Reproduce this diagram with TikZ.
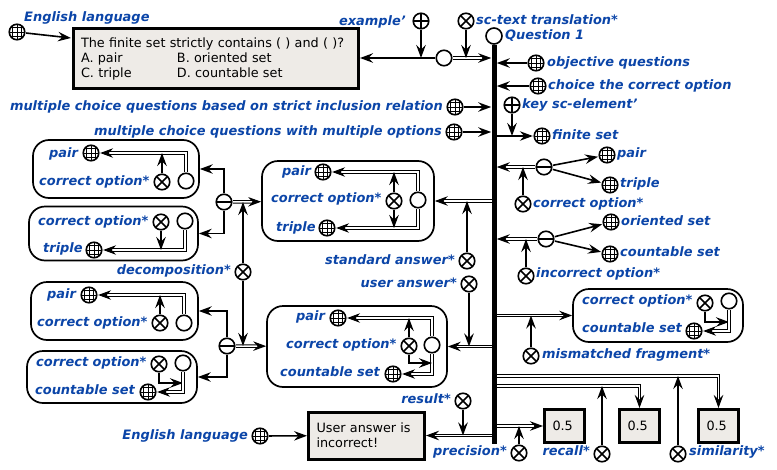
\documentclass[tikz,border=0pt]{standalone}
\usepackage{fontspec}
\setmainfont{DejaVu Sans}
\usetikzlibrary{arrows.meta,calc}
\definecolor{scblue}{HTML}{0B45A8}
\definecolor{scpaper}{HTML}{EEEBE7}
\tikzset{
  sc/.style={circle,draw,line width=1.6,minimum size=15.5,inner sep=0,fill=white,outer sep=1.4},
  scgrid/.style={sc,path picture={
    \foreach \d in {-4.2,0,4.2}{
      \draw[line width=.65] ($(path picture bounding box.center)+(\d,-9)$) -- +(0,18);
      \draw[line width=.65] ($(path picture bounding box.center)+(-9,\d)$) -- +(18,0);}}},
  scx/.style={sc,path picture={
      \draw[line width=1.6] ($(path picture bounding box.center)+(-6,-6)$) -- +(12,12);
      \draw[line width=1.6] ($(path picture bounding box.center)+(-6,6)$) -- +(12,-12);}},
  scplus/.style={sc,path picture={
      \draw[line width=1.6] ($(path picture bounding box.center)+(-9,0)$) -- +(18,0);
      \draw[line width=1.6] ($(path picture bounding box.center)+(0,-9)$) -- +(0,18);}},
  scminus/.style={sc,path picture={
      \draw[line width=1.6] ($(path picture bounding box.center)+(-9,0)$) -- +(18,0);}},
  scempty/.style={sc},
  lab/.style={text=scblue,font=\fontsize{12.95}{15}\selectfont\bfseries\itshape,inner sep=0,anchor=base west},
  labr/.style={lab,anchor=base east},
  arr/.style={line width=1.6,-{Stealth[length=13,width=9.5,inset=4.5]}},
  dbl/.style={line width=1,double,double distance=1.5,-{Stealth[length=13,width=9.5,inset=4.5]}},
  tospine/.style={shorten >=2.8},
  cont/.style={draw,line width=1.7,rounded corners=16,fill=white,inner sep=0},
  paper/.style={draw,line width=3,fill=scpaper,inner sep=0,font=\fontsize{12.8}{15}\selectfont,align=left,
    path picture={\fill ($(path picture bounding box.north west)$) -- +(7,0) -- +(0,7) -- cycle;}},
}
\begin{document}
\begin{tikzpicture}[x=1pt,y=-1pt]
\useasboundingbox (0,0) rectangle (777,469);
% containers
\node[cont,minimum width=166,minimum height=58] (b1) at (116,169) {};
\node[cont,minimum width=169,minimum height=54] (b2) at (113.5,233.5) {};
\node[cont,minimum width=167,minimum height=58] (b3) at (114.5,311) {};
\node[cont,minimum width=170,minimum height=52] (b4) at (112,377) {};
\node[cont,minimum width=172,minimum height=80] (mb1) at (348,201) {};
\node[cont,minimum width=180,minimum height=81] (mb2) at (357,346.5) {};
\node[cont,minimum width=170,minimum height=53] (mm) at (658,315.5) {};
% spine ends
\node[scempty,minimum size=16] (q) at (494,36) {};
\coordinate (qend) at (494,444);
% paper boxes
\node[paper,minimum width=285,minimum height=60,text width=270,anchor=center] (txt) at (216,58.5)
  {The finite set strictly contains ( ) and ( )?\\\makebox[96pt][l]{A. pair}B. oriented set\\\makebox[96pt][l]{C. triple}D. countable set};
\node[paper,minimum width=116,minimum height=47,text width=100] (ua) at (366.5,435.5) {User answer is\\incorrect!};
\node[paper,minimum width=40,minimum height=33,text width=24] (v1) at (564.5,426) {0.5};
\node[paper,minimum width=40,minimum height=33,text width=24] (v2) at (639.5,426) {0.5};
\node[paper,minimum width=40,minimum height=33,text width=24] (v3) at (718.5,426) {0.5};
% top-left
\node[scgrid] (g1) at (17,32) {};
\node[lab] (l1) at (24,21) {English language};
\coordinate (txtin) at (71,38);
\draw[arr] (g1) -- (txtin);
\node[scempty] (c1) at (444,58) {};
\node[scplus] (ex) at (421,21) {};
\node[labr] (lex) at (406,25) {example'};
\node[scx] (tr) at (466,21) {};
\node[lab] (ltr) at (476,24) {sc-text translation*};
\node[lab] (lq) at (505,39) {Question 1};
\draw[arr] (c1) -- (txt.east|-c1);
\draw[dbl,tospine] (c1) -- (c1-|q);
\draw[arr] (ex) -- (ex|-c1);
\draw[arr] (tr) -- (tr|-c1);
% right list
\node[scgrid] (g2) at (536,63) {};
\node[lab] (l2) at (547,66) {objective questions};
\draw[arr,tospine] (g2) -- (g2-|q);
\node[scgrid] (g3) at (538,86) {};
\node[lab] (l3) at (548,89) {choice the correct option};
\draw[arr,tospine] (g3) -- (g3-|q);
\node[scgrid] (g4) at (455,107) {};
\node[labr] (l4) at (443,110) {multiple choice questions based on strict inclusion relation};
\draw[arr,tospine] (g4) -- (g4-|q);
\node[scgrid] (g5) at (454,132) {};
\node[labr] (l5) at (442,135) {multiple choice questions with multiple options};
\draw[arr,tospine] (g5) -- (g5-|q);
\node[scplus] (ke) at (512,105) {};
\node[lab] (lke) at (522,108) {key sc-element'};
\node[scgrid] (fs) at (542,136) {};
\node[lab] (lfs) at (552,139) {finite set};
\draw[arr] (fs-|q) -- (fs);
\draw[arr] (ke) -- (ke|-fs);
% correct options
\node[scminus] (m1) at (544,167) {};
\node[scgrid] (g6) at (607,155) {};
\node[lab] (l6) at (617,157) {pair};
\node[scgrid] (g7) at (610,185) {};
\node[lab] (l7) at (620,187) {triple};
\node[scx] (x1) at (523,204) {};
\node[lab] (lx1) at (533,207) {correct option*};
\draw[dbl,tospine] (m1) -- (m1-|q);
\draw[arr] (m1) -- (g6);
\draw[arr] (m1) -- (g7);
\draw[arr] (x1) -- (x1|-m1);
\node[scminus] (m2) at (546,239) {};
\node[scgrid] (g8) at (611,222) {};
\node[lab] (l8) at (621,225) {oriented set};
\node[scgrid] (g9) at (610,254) {};
\node[lab] (l9) at (620,256) {countable set};
\node[scx] (x2) at (526,276) {};
\node[lab] (lx2) at (536,277) {incorrect option*};
\draw[dbl,tospine] (m2) -- (m2-|q);
\draw[arr] (m2) -- (g8);
\draw[arr] (m2) -- (g9);
\draw[arr] (x2) -- (x2|-m2);
% mismatched fragment
\node[scx] (x3) at (531,356) {};
\node[lab] (lx3) at (542,358) {mismatched fragment*};
\draw[dbl] (mm-|q) -- (mm);
\draw[arr] (x3) -- (x3|-mm);
\node[lab] (lm1) at (582,304) {correct option*};
\node[lab] (lm2) at (582,332) {countable set};
\node[scx] (mx) at (705,303) {};
\node[scempty] (mc) at (729,301) {};
\node[scgrid] (mg) at (694,331) {};
\draw[arr] (mx) |- ($(mc)+(0,21)$);
\draw[dbl] (mc) |- (mg);
% metric boxes
\coordinate (d1) at (719,376);
\coordinate (d2) at (640,386);
\coordinate (d3) at (541,426);
\draw[dbl] (d1-|q) -| (v3);
\draw[dbl] (d2-|q) -| (v2);
\draw[dbl] (d3-|q) -- (v1);
\node[scx] (xp) at (519,453) {};
\node[labr] (lxp) at (507,455) {precision*};
\node[scx] (xr) at (602,454) {};
\node[labr] (lxr) at (590,455) {recall*};
\node[scx] (xs) at (678,454) {};
\node[lab] (lxs) at (689,455) {similarity*};
\draw[arr] (xp) -- (xp|-d3);
\draw[arr] (xr) -- (xr|-d2);
\draw[arr] (xs) -- (xs|-d1);
% user answer box
\node[scx] (xres) at (463,401) {};
\node[labr] (lres) at (451,403) {result*};
\draw[dbl] (ua-|q) -- (ua);
\draw[arr] (xres) -- (xres|-ua);
\node[scgrid] (ge) at (260,436) {};
\node[labr] (le) at (248,439) {English language};
\draw[arr] (ge) -- (ua);
% middle boxes
\node[scx] (xs1) at (467,261) {};
\node[labr] (lxs1) at (455,264) {standard answer*};
\node[scx] (xu) at (469,284) {};
\node[labr] (lxu) at (457,287) {user answer*};
\draw[dbl] (mb1-|q) -- (mb1);
\draw[dbl] (mb2-|q) -- (mb2);
\draw[arr] (xs1) -- (xs1|-mb1);
\draw[arr] (xu) -- (xu|-mb2);
% mid box 1
\node[lab] (a1) at (282,175) {pair};
\node[scgrid] (a2) at (323,172) {};
\node[lab] (a3) at (271,202) {correct option*};
\node[scx] (a4) at (394,201) {};
\node[scempty] (a5) at (418,200) {};
\node[lab] (a6) at (276,231) {triple};
\node[scgrid] (a7) at (327,228) {};
\draw[dbl] (a5) |- (a2);
\draw[dbl] (a5) |- (a7);
\draw[arr] (a4) -- (a4|-a2);
\draw[arr] (a4) -- (a4|-a7);
% mid box 2
\node[lab] (e1) at (296,320) {pair};
\node[scgrid] (e2) at (338,318) {};
\node[lab] (e3) at (286,348) {correct option*};
\node[scx] (e4) at (409,346) {};
\node[scempty] (e5) at (432,345) {};
\node[lab] (e6) at (280,376) {countable set};
\node[scgrid] (e7) at (393,374) {};
\draw[dbl] (e5) |- (e2);
\draw[dbl] (e5) |- (e7);
\draw[arr] (e4) -- (e4|-e2);
\draw[arr] (e4) |- ($(e5)+(0,18)$);
% left column
\node[scminus] (lm) at (224,202) {};
\node[scminus] (lm4) at (227,346) {};
\node[scx] (dec) at (243,272) {};
\node[labr] (ldec) at (231,274) {decomposition*};
\draw[arr] (lm) |- (b1);
\draw[arr] (lm) |- (b2);
\draw[dbl] (lm) -- (mb1);
\draw[arr] (lm4) |- (b3);
\draw[arr] (lm4) |- (b4);
\draw[dbl] (lm4) -- (mb2);
\draw[arr] (dec) -- (dec|-lm);
\draw[arr] (dec) -- (dec|-lm4);
% box 1
\node[lab] (f1) at (49,157) {pair};
\node[scgrid] (f2) at (91,153) {};
\node[lab] (f3) at (39,185) {correct option*};
\node[scx] (f4) at (162,182) {};
\node[scempty] (f5) at (186,181) {};
\draw[dbl] (f5) |- (f2);
\draw[arr] (f4) -- (f4|-f2);
% box 2
\node[lab] (h1) at (38,225) {correct option*};
\node[scx] (h2) at (161,222) {};
\node[scempty] (h3) at (185,221) {};
\node[lab] (h4) at (43,252) {triple};
\node[scgrid] (h5) at (94,250) {};
\draw[dbl] (h3) |- (h5);
\draw[arr] (h2) -- (h2|-h5);
% box 3
\node[lab] (i1) at (47,298) {pair};
\node[scgrid] (i2) at (89,295) {};
\node[lab] (i3) at (37,326) {correct option*};
\node[scx] (i4) at (160,323) {};
\node[scempty] (i5) at (184,323) {};
\draw[dbl] (i5) |- (i2);
\draw[arr] (i4) -- (i4|-i2);
% box 4
\node[lab] (j1) at (36,366) {correct option*};
\node[scx] (j2) at (159,364) {};
\node[scempty] (j3) at (183,363) {};
\node[lab] (j4) at (35,394) {countable set};
\node[scgrid] (j5) at (148,392) {};
\draw[arr] (j2) |- ($(j3)+(0,20)$);
\draw[dbl] (j3) |- (j5);
% spine on top of the connectors that leave it
\draw[line width=5] (q) -- (qend);
\end{tikzpicture}
\end{document}
